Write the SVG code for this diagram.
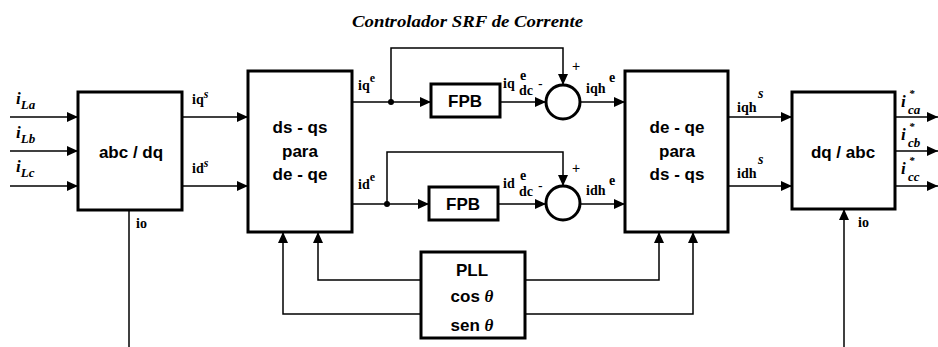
<svg xmlns="http://www.w3.org/2000/svg" width="938" height="347" viewBox="0 0 938 347">
<defs>
<marker id="ah" markerUnits="userSpaceOnUse" markerWidth="12" markerHeight="10" refX="11" refY="5" orient="auto">
<path d="M0,0 L11,5 L0,10 Z" fill="#000"/>
</marker>
<style>
.blk{fill:#fff;stroke:#000;stroke-width:3}
.ln{fill:none;stroke:#000;stroke-width:1.5}
.ar{fill:none;stroke:#000;stroke-width:1.5;marker-end:url(#ah)}
.bt{font-family:"Liberation Sans",Arial,sans-serif;font-weight:bold;font-size:17px;text-anchor:middle}
.lb{font-family:"Liberation Serif","Times New Roman",serif;font-weight:bold;font-size:14px}
.it{font-family:"Liberation Serif","Times New Roman",serif;font-weight:bold;font-style:italic;font-size:17px}
.sm{font-size:13px}
.st{font-size:11px}
.sg{font-family:"Liberation Sans",Arial,sans-serif;font-size:14px}
</style>
</defs>
<rect width="938" height="347" fill="#fff"/>
<text x="352" y="27" font-family="'Liberation Serif','Times New Roman',serif" font-weight="bold" font-style="italic" font-size="16" textLength="231" lengthAdjust="spacingAndGlyphs">Controlador SRF de Corrente</text>

<g id="connectors">
<path class="ar" d="M10,117 H78"/>
<path class="ar" d="M10,151 H78"/>
<path class="ar" d="M10,186 H78"/>
<path class="ar" d="M182,117 H248"/>
<path class="ar" d="M182,186 H248"/>
<path class="ln" d="M129,210 V347"/>
<path class="ar" d="M352,102 H431"/>
<path class="ar" d="M352,204 H429"/>
<circle cx="391" cy="102" r="3"/>
<circle cx="387" cy="204" r="3"/>
<path class="ar" d="M391,102 V48 H563 V85"/>
<path class="ar" d="M387,204 V152 H563 V186"/>
<path class="ar" d="M500,102 H546"/>
<path class="ar" d="M498,204 H546"/>
<path class="ar" d="M580,102 H625"/>
<path class="ar" d="M580,204 H625"/>
<path class="ar" d="M728,117 H792"/>
<path class="ar" d="M728,186 H792"/>
<path class="ar" d="M895,117 H938"/>
<path class="ar" d="M895,151 H938"/>
<path class="ar" d="M895,186 H938"/>
<path class="ar" d="M844,347 V209"/>
<path class="ar" d="M421,280 H318 V232"/>
<path class="ar" d="M421,314 H283 V232"/>
<path class="ar" d="M525,280 H659 V232"/>
<path class="ar" d="M525,314 H693 V232"/>
</g>

<g id="abc_dq">
<rect class="blk" x="78" y="92" width="104" height="118"/>
<text class="bt" x="131" y="158">abc / dq</text>
</g>
<g id="dsqs_deqe">
<rect class="blk" x="248" y="71" width="104" height="161"/>
<text class="bt" x="300" y="133">ds  - qs</text>
<text class="bt" x="300" y="157">para</text>
<text class="bt" x="300" y="180">de - qe</text>
</g>
<g id="fpb_q">
<rect class="blk" x="431" y="84" width="69" height="33"/>
<text class="bt" x="465" y="107">FPB</text>
</g>
<g id="fpb_d">
<rect class="blk" x="429" y="187" width="69" height="33"/>
<text class="bt" x="463" y="210">FPB</text>
</g>
<g id="sum_q">
<circle cx="563" cy="102" r="17" fill="#fff" stroke="#000" stroke-width="3"/>
<text class="sg" x="572" y="71">+</text>
<text class="sg" x="538" y="89">-</text>
</g>
<g id="sum_d">
<circle cx="563" cy="203" r="17" fill="#fff" stroke="#000" stroke-width="3"/>
<text class="sg" x="572" y="173">+</text>
<text class="sg" x="538" y="191">-</text>
</g>
<g id="deqe_dsqs">
<rect class="blk" x="625" y="71" width="103" height="161"/>
<text class="bt" x="677" y="133">de - qe</text>
<text class="bt" x="677" y="157">para</text>
<text class="bt" x="677" y="180">ds  - qs</text>
</g>
<g id="dq_abc">
<rect class="blk" x="792" y="92" width="103" height="117"/>
<text class="bt" x="843" y="158">dq / abc</text>
</g>
<g id="pll">
<rect class="blk" x="421" y="252" width="104" height="86"/>
<text class="bt" x="472" y="276">PLL</text>
<text class="bt" x="472" y="302">cos <tspan font-family="'Liberation Serif',serif" font-style="italic">θ</tspan></text>
<text class="bt" x="472" y="331">sen <tspan font-family="'Liberation Serif',serif" font-style="italic">θ</tspan></text>
</g>

<g id="labels">
<text class="it" x="16" y="104">i<tspan class="sm" dy="5">La</tspan></text>
<text class="it" x="16" y="138">i<tspan class="sm" dy="5">Lb</tspan></text>
<text class="it" x="16" y="172">i<tspan class="sm" dy="5">Lc</tspan></text>
<text class="lb" x="192" y="104">iq<tspan font-style="italic" font-size="12" dy="-6">s</tspan></text>
<text class="lb" x="192" y="173">id<tspan font-style="italic" font-size="12" dy="-6">s</tspan></text>
<text class="lb" x="136" y="228" font-size="12">io</text>
<text class="lb" x="858" y="227" font-size="12">io</text>
<text class="lb" x="358" y="90">iq<tspan font-size="12" dy="-8">e</tspan></text>
<text class="lb" x="358" y="189">id<tspan font-size="12" dy="-8">e</tspan></text>
<text class="lb" x="503" y="88">iq</text>
<text class="lb" x="520" y="80" font-size="12">e</text>
<text class="lb" x="519" y="95" font-size="13">dc</text>
<text class="lb" x="503" y="188">id</text>
<text class="lb" x="520" y="180" font-size="12">e</text>
<text class="lb" x="519" y="196" font-size="13">dc</text>
<text class="lb" x="586" y="93">iqh</text>
<text class="lb" x="609" y="82" font-size="12">e</text>
<text class="lb" x="586" y="195">idh</text>
<text class="lb" x="609" y="185" font-size="12">e</text>
<text class="lb" x="737" y="112">iqh</text>
<text class="lb" x="758" y="98" font-size="12" font-style="italic">s</text>
<text class="lb" x="737" y="178">idh</text>
<text class="lb" x="758" y="164" font-size="12" font-style="italic">s</text>
<text class="it" x="901" y="107">i</text><text class="it st" x="909" y="97">*</text><text class="it sm" x="908" y="114">ca</text>
<text class="it" x="901" y="140">i</text><text class="it st" x="909" y="130">*</text><text class="it sm" x="908" y="147">cb</text>
<text class="it" x="901" y="174">i</text><text class="it st" x="909" y="164">*</text><text class="it sm" x="908" y="181">cc</text>
</g>
</svg>
